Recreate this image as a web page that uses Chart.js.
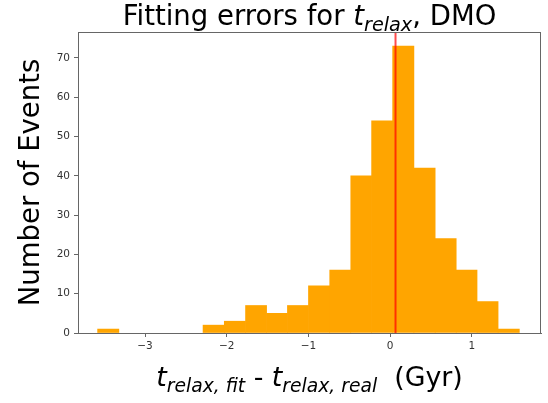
<!DOCTYPE html>
<html>
<head>
<meta charset="utf-8">
<title>Fitting errors for t_relax, DMO</title>
<script src="https://cdn.jsdelivr.net/npm/chart.js@4/dist/chart.umd.min.js"></script>
<style>
  html, body { margin: 0; padding: 0; background: #fff; }
  #wrap { width: 548px; height: 403px; }
</style>
</head>
<body>
<div id="wrap"><canvas id="histChart" width="548" height="403"></canvas></div>
<script>
// histogram bins (Gyr) and counts
var binEdges = [-3.58, -3.32, -3.06, -2.80, -2.55, -2.29, -2.03, -1.77, -1.51, -1.26, -1.00,
                -0.74, -0.48, -0.23, 0.03, 0.29, 0.55, 0.81, 1.06, 1.32, 1.58];
var counts = [1, 0, 0, 0, 0, 2, 3, 7, 5, 7, 12, 16, 40, 54, 73, 42, 24, 16, 8, 1];
var markerX = 0.065;            // red vertical line
var xTicks = [-3, -2, -1, 0, 1];
var yTicks = [0, 10, 20, 30, 40, 50, 60, 70];
var xRange = [-3.82, 1.845];
var yRange = [0, 76.6];

// empty bins are left out (null) so no sliver gets drawn on the axis
var barData = counts.map(function (c, i) {
  return { x: (binEdges[i] + binEdges[i + 1]) / 2, y: c === 0 ? null : c };
});

var FONT = "'DejaVu Sans', sans-serif";

// draws text made of normal / italic / subscript pieces
function drawRich(ctx, parts, cx, baseline, size) {
  var total = 0;
  parts.forEach(function (p) {
    var s = p.sub ? size * 0.7 : size;
    ctx.font = (p.it ? 'italic ' : '') + s + 'px ' + FONT;
    p.w = ctx.measureText(p.t).width;
    total += p.w;
  });
  var x = cx - total / 2;
  ctx.textAlign = 'left';
  ctx.textBaseline = 'alphabetic';
  parts.forEach(function (p) {
    var s = p.sub ? size * 0.7 : size;
    ctx.font = (p.it ? 'italic ' : '') + s + 'px ' + FONT;
    ctx.fillText(p.t, x, baseline + (p.sub ? size * 0.22 : 0));
    x += p.w;
  });
}

var richLabels = {
  id: 'richLabels',
  afterDraw: function (chart) {
    var ctx = chart.ctx;
    var area = chart.chartArea;
    ctx.save();
    // top and right spines
    ctx.strokeStyle = '#666';
    ctx.lineWidth = 1;
    ctx.strokeRect(area.left + 0.5, area.top + 0.5, area.right - area.left - 1, area.bottom - area.top);
    ctx.fillStyle = '#000';
    var cx = (area.left + area.right) / 2;
    drawRich(ctx, [
      { t: 'Fitting errors for ' },
      { t: 't', it: true },
      { t: 'relax', it: true, sub: true },
      { t: ', DMO' }
    ], cx, 25, 27.5);
    drawRich(ctx, [
      { t: 't', it: true },
      { t: 'relax, fit', it: true, sub: true },
      { t: ' - ' },
      { t: 't', it: true },
      { t: 'relax, real', it: true, sub: true },
      { t: '  (Gyr)' }
    ], cx, 386, 26.8);
    ctx.restore();
  }
};

var ctx = document.getElementById('histChart').getContext('2d');
var histChart = new Chart(ctx, {
  type: 'bar',
  data: {
    datasets: [{
      type: 'line',
      label: 'marker',
      data: [{ x: markerX, y: yRange[0] }, { x: markerX, y: yRange[1] }],
      borderColor: 'rgba(255, 0, 0, 0.7)',
      borderWidth: 2,
      pointRadius: 0,
      order: 0
    }, {
      label: 'Number of Events',
      data: barData,
      backgroundColor: '#ffa500',
      borderWidth: 0,
      barThickness: 'flex',
      categoryPercentage: 1,
      barPercentage: 1,
      order: 1
    }]
  },
  options: {
    responsive: false,
    animation: false,
    devicePixelRatio: 1,
    layout: { padding: { top: 32, right: 7, left: 0, bottom: 0 } },
    plugins: {
      legend: { display: false },
      tooltip: { enabled: false }
    },
    scales: {
      x: {
        type: 'linear',
        offset: false,
        min: xRange[0],
        max: xRange[1],
        afterBuildTicks: function (scale) {
          scale.ticks = xTicks.map(function (v) { return { value: v }; });
        },
        afterFit: function (scale) { scale.height = 70; },
        grid: { offset: false, drawOnChartArea: false, drawTicks: true, tickLength: 4, color: '#666' },
        border: { color: '#666', width: 1 },
        ticks: {
          color: '#333',
          padding: 3,
          maxRotation: 0,
          font: { family: FONT, size: 10.5 },
          callback: function (v) { return String(v).replace('-', '\u2212'); }
        }
      },
      y: {
        min: yRange[0],
        max: yRange[1],
        afterBuildTicks: function (scale) {
          scale.ticks = yTicks.map(function (v) { return { value: v }; });
        },
        afterFit: function (scale) { scale.width = 78; },
        grid: { drawOnChartArea: false, drawTicks: true, tickLength: 4, color: '#666' },
        border: { color: '#666', width: 1 },
        ticks: {
          color: '#333',
          padding: 4,
          font: { family: FONT, size: 10.5 }
        },
        title: {
          display: true,
          text: 'Number of Events',
          color: '#000',
          font: { family: FONT, size: 27.5 },
          padding: { top: 15, bottom: 0 }
        }
      }
    }
  },
  plugins: [richLabels]
});
</script>
</body>
</html>
